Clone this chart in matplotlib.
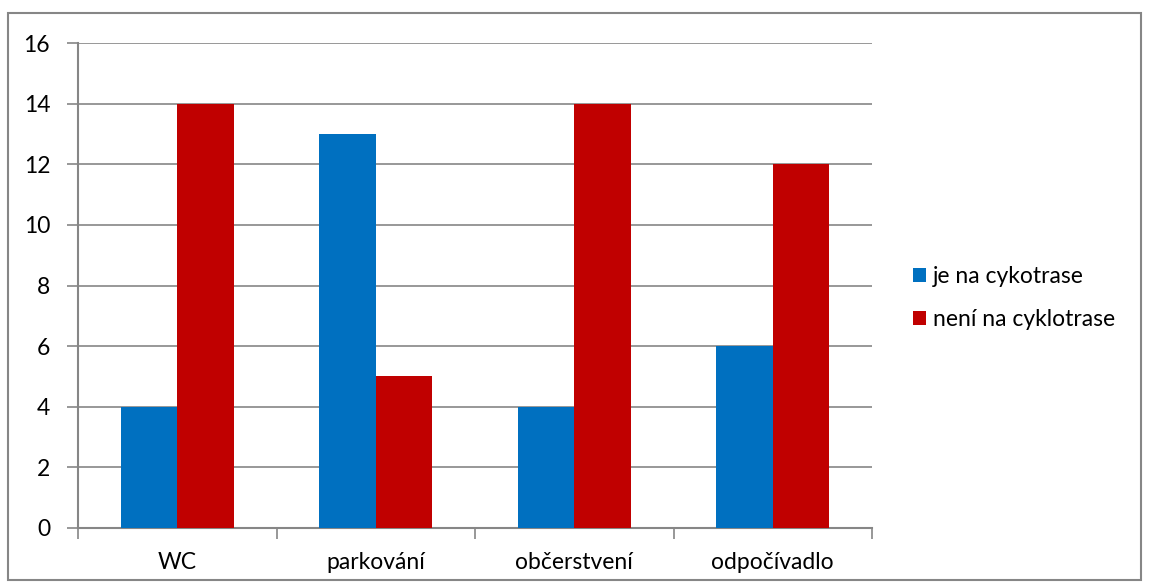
import matplotlib
matplotlib.use("Agg")
import matplotlib.pyplot as plt
from matplotlib.patches import Rectangle
from matplotlib.ticker import FixedLocator, NullFormatter

categories = ["WC", "parkování", "občerstvení", "odpočívadlo"]
je_na = [4, 13, 4, 6]
neni_na = [14, 5, 14, 12]
series_labels = ["je na cykotrase", "není na cyklotrase"]
y_ticks = [0, 2, 4, 6, 8, 10, 12, 14, 16]

plt.rcParams["font.family"] = ["Lato", "DejaVu Sans"]

W, H = 1149, 588
fig = plt.figure(figsize=(W / 100, H / 100), dpi=100)

# outer chart frame
fig.patches.append(Rectangle((8 / W, 1 - 580 / H), (1141 - 8) / W, (580 - 13) / H,
                             transform=fig.transFigure, fill=False,
                             edgecolor="#868686", linewidth=1.5))

ax = fig.add_axes([78 / W, 1 - 528 / H, (872 - 78) / W, (528 - 43) / H])

x = list(range(len(categories)))
bw = 0.285
blue = "#0070C0"
red = "#C00000"
ax.bar([i - bw / 2 for i in x], je_na, width=bw, color=blue, label=series_labels[0], zorder=3)
ax.bar([i + bw / 2 for i in x], neni_na, width=bw, color=red, label=series_labels[1], zorder=3)

ax.set_xlim(-0.5, len(categories) - 0.5)
ax.set_ylim(0, 16)
ax.set_yticks(y_ticks)
ax.yaxis.grid(True, color="#868686", linewidth=1.2, zorder=0)
ax.set_axisbelow(True)

for s in ["top", "right"]:
    ax.spines[s].set_visible(False)
for s in ["left", "bottom"]:
    ax.spines[s].set_color("#868686")
    ax.spines[s].set_linewidth(1.5)

fs = 16.5
ax.tick_params(axis="y", length=8, width=1.2, color="#868686", labelsize=fs, pad=12)
ax.xaxis.set_major_locator(FixedLocator([i - 0.5 for i in range(len(categories) + 1)]))
ax.xaxis.set_major_formatter(NullFormatter())
ax.xaxis.set_minor_locator(FixedLocator(x))
ax.set_xticklabels(categories, minor=True)
ax.tick_params(axis="x", which="major", length=8, width=1.2, color="#868686")
ax.tick_params(axis="x", which="minor", length=0, labelsize=fs, pad=17)

ax.legend(loc="center left", bbox_to_anchor=(904 / W, 1 - 298 / H),
          bbox_transform=fig.transFigure, frameon=False, fontsize=fs,
          handlelength=0.55, handleheight=0.55, handletextpad=0.3,
          labelspacing=0.95, borderaxespad=0)

fig.savefig("out.png", dpi=100)
